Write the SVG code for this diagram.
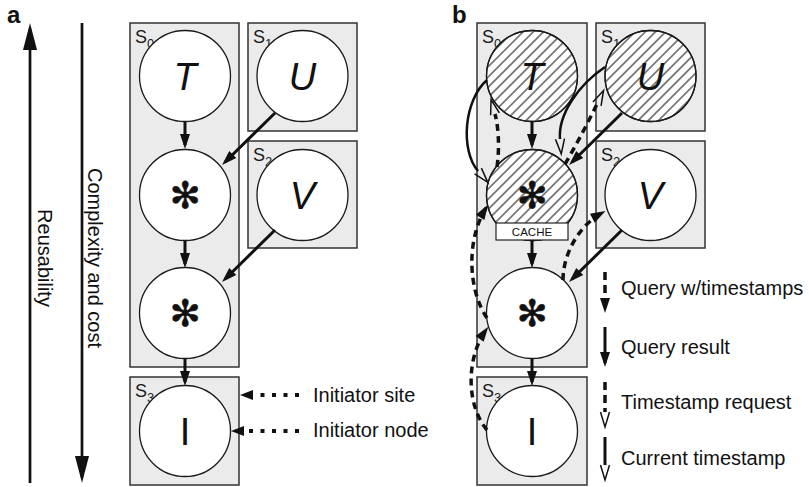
<svg xmlns="http://www.w3.org/2000/svg" width="809" height="487" viewBox="0 0 809 487">
  <defs>
    <style>
      .site{fill:#ebebeb;stroke:#333;stroke-width:1.5}
      .node{fill:#fff;stroke:#1a1a1a;stroke-width:1.3}
      .rim{fill:none;stroke:#1a1a1a;stroke-width:1.3}
      .hatched{fill:url(#hatch);stroke:none}
      .sl{font-family:"Liberation Sans",Arial,sans-serif;font-size:18px;fill:#1a1a1a}
      .sub{font-size:13px}
      .var{font-family:"Liberation Sans",Arial,sans-serif;font-size:38px;font-style:italic;text-anchor:middle;fill:#111}
      .init{font-family:"Liberation Sans",Arial,sans-serif;font-size:38px;text-anchor:middle;fill:#111}
      .op{font-family:"DejaVu Sans",sans-serif;font-size:37px;text-anchor:middle;dominant-baseline:central;fill:#111;stroke:#111;stroke-width:0.6}
      .lbl{font-family:"Liberation Sans",Arial,sans-serif;font-size:20px;fill:#111}
      .panel{font-family:"Liberation Sans",Arial,sans-serif;font-size:24px;font-weight:bold;fill:#111}
      .cache{fill:#fff;stroke:#222;stroke-width:1.2}
      .cachetxt{font-family:"Liberation Sans",Arial,sans-serif;font-size:11.5px;text-anchor:middle;fill:#111}
      .axis{fill:none;stroke:#111;stroke-width:2.7}
      .solid{fill:none;stroke:#111;stroke-width:3}
      .thin{fill:none;stroke:#111;stroke-width:2.5}
      .dashed{fill:none;stroke:#111;stroke-width:3.5;stroke-dasharray:7 5}
      .dotted{fill:none;stroke:#111;stroke-width:4;stroke-dasharray:4 7.5}
      .result{marker-end:url(#fa)}
      .stamp{marker-end:url(#oa)}
    </style>
    <pattern id="hatch" patternUnits="userSpaceOnUse" width="7.2" height="7.2" patternTransform="rotate(-45)">
      <line x1="0" y1="3.6" x2="7.2" y2="3.6" stroke="#222" stroke-width="1.1"/>
    </pattern>
    <!-- filled arrowhead, tip 4px past the line end -->
    <marker id="fa" markerUnits="userSpaceOnUse" markerWidth="15" markerHeight="10" refX="11" refY="5" orient="auto" overflow="visible">
      <path d="M0,0 L15,5 L0,10 z" fill="#111"/>
    </marker>
    <!-- hollow arrowhead: two thin arms running 15px past the line end -->
    <marker id="oa" markerUnits="userSpaceOnUse" markerWidth="16" markerHeight="10" refX="0" refY="5" orient="auto" overflow="visible">
      <path d="M0,0.5 L15,5 L0,9.5" fill="none" stroke="#111" stroke-width="1.5" stroke-dasharray="none" stroke-linejoin="miter"/>
    </marker>
    <!-- arrowhead set off from the end of a dotted pointer -->
    <marker id="fad" markerUnits="userSpaceOnUse" markerWidth="13" markerHeight="10" refX="0" refY="5" orient="auto" overflow="visible">
      <path d="M0,0 L13,5 L0,10 z" fill="#111"/>
    </marker>
    <!-- large arrowhead of the side axes -->
    <marker id="big" markerUnits="userSpaceOnUse" markerWidth="27" markerHeight="14" refX="21" refY="7" orient="auto" overflow="visible">
      <path d="M0,0 L27,7 L0,14 z" fill="#111"/>
    </marker>
  </defs>

  <rect width="809" height="487" fill="#fff"/>

  <!-- panel letters -->
  <text class="panel" x="7" y="23">a</text>
  <text class="panel" x="452" y="23">b</text>

  <!-- side axes -->
  <g id="axes">
    <path class="axis" d="M30,483 V29" marker-end="url(#big)"/>
    <path class="axis" d="M82,23 V477" marker-end="url(#big)"/>
    <text class="lbl" text-anchor="middle" transform="translate(38,258) rotate(90)">Reusability</text>
    <text class="lbl" text-anchor="middle" transform="translate(88,258) rotate(90)">Complexity and cost</text>
  </g>

  <!-- ===== panel a: sites ===== -->
  <g id="a-site-s0"><rect class="site" x="130" y="23" width="109" height="344"/><text class="sl" x="135" y="43">S<tspan class="sub" dy="5">0</tspan></text></g>
  <g id="a-site-s1"><rect class="site" x="248" y="23" width="109" height="108"/><text class="sl" x="253" y="43">S<tspan class="sub" dy="5">1</tspan></text></g>
  <g id="a-site-s2"><rect class="site" x="248" y="141" width="109" height="107"/><text class="sl" x="253" y="161">S<tspan class="sub" dy="5">2</tspan></text></g>
  <g id="a-site-s3"><rect class="site" x="130" y="377" width="109" height="108"/><text class="sl" x="135" y="397">S<tspan class="sub" dy="5">3</tspan></text></g>

  <!-- panel a: nodes -->
  <g id="a-node-t"><circle class="node" cx="185" cy="76" r="45.5"/><text class="var" x="185" y="89.5">T</text></g>
  <g id="a-node-u"><circle class="node" cx="302.5" cy="76" r="45.5"/><text class="var" x="302.5" y="89.5">U</text></g>
  <g id="a-node-join1"><circle class="node" cx="185" cy="195" r="45.5"/><text class="op" x="185" y="195">✻</text></g>
  <g id="a-node-v"><circle class="node" cx="302.5" cy="195" r="45.5"/><text class="var" x="302.5" y="208.5">V</text></g>
  <g id="a-node-join2"><circle class="node" cx="185" cy="313" r="45.5"/><text class="op" x="185" y="313">✻</text></g>
  <g id="a-node-i"><circle class="node" cx="185" cy="431" r="45.5"/><text class="init" x="185" y="444.5">I</text></g>

  <!-- ===== panel b: sites ===== -->
  <g id="b-site-s0"><rect class="site" x="477" y="23" width="110" height="344"/><text class="sl" x="482" y="43">S<tspan class="sub" dy="5">0</tspan></text></g>
  <g id="b-site-s1"><rect class="site" x="596" y="23" width="109" height="108"/><text class="sl" x="601" y="43">S<tspan class="sub" dy="5">1</tspan></text></g>
  <g id="b-site-s2"><rect class="site" x="596" y="141" width="109" height="107"/><text class="sl" x="601" y="161">S<tspan class="sub" dy="5">2</tspan></text></g>
  <g id="b-site-s3"><rect class="site" x="477" y="377" width="110" height="108"/><text class="sl" x="482" y="397">S<tspan class="sub" dy="5">3</tspan></text></g>

  <!-- panel b: nodes -->
  <g id="b-node-t">
    <circle class="node" cx="532" cy="76" r="45.5"/>
    <circle class="hatched" cx="532" cy="76" r="45.5"/>
    <text class="var" x="532" y="89.5">T</text>
    <circle class="rim" cx="532" cy="76" r="45.5"/>
  </g>
  <g id="b-node-u">
    <circle class="node" cx="650.5" cy="76" r="45.5"/>
    <circle class="hatched" cx="650.5" cy="76" r="45.5"/>
    <text class="var" x="650.5" y="89.5">U</text>
    <circle class="rim" cx="650.5" cy="76" r="45.5"/>
  </g>
  <g id="b-node-join1">
    <circle class="node" cx="532" cy="195" r="45.5"/>
    <circle class="hatched" cx="532" cy="195" r="45.5"/>
    <text class="op" x="532" y="195">✻</text>
    <circle class="rim" cx="532" cy="195" r="45.5"/>
    <rect class="cache" x="496" y="223" width="72" height="17"/>
    <text class="cachetxt" x="532" y="236">CACHE</text>
  </g>
  <g id="b-node-v"><circle class="node" cx="650.5" cy="195" r="45.5"/><text class="var" x="650.5" y="208.5">V</text></g>
  <g id="b-node-join2"><circle class="node" cx="532" cy="313" r="45.5"/><text class="op" x="532" y="313">✻</text></g>
  <g id="b-node-i"><circle class="node" cx="532" cy="431" r="45.5"/><text class="init" x="532" y="444.5">I</text></g>

  <!-- ===== connectors ===== -->
  <g id="connectors">
    <!-- panel a: query results -->
    <path class="solid result" d="M185,122 V145"/>
    <path class="solid result" d="M275,113 L224.9,162.2"/>
    <path class="solid result" d="M275,230 L224.9,279.2"/>
    <path class="solid result" d="M185,241 V264"/>
    <path class="solid result" d="M185,359 V382"/>

    <!-- panel b: query results -->
    <path class="solid result" d="M532,122 V145"/>
    <path class="solid result" d="M622,113 L571.9,162.2"/>
    <path class="solid result" d="M532,240 V264"/>
    <path class="solid result" d="M622,230 L571.9,279.2"/>
    <path class="solid result" d="M532,359 V382"/>

    <!-- panel b: current timestamps -->
    <path class="thin stamp" d="M487,80 C464,100 460,150 478,171"/>
    <path class="thin stamp" d="M605,67 C578,85 558,115 560,139"/>

    <!-- panel b: timestamp requests -->
    <path class="dashed stamp" d="M497,167 C500,145 498,125 495,114"/>
    <path class="dashed stamp" d="M565,164 Q582,135 597,104"/>

    <!-- panel b: queries with timestamps -->
    <path class="dashed result" d="M487,318 C468,290 466,240 486,208"/>
    <path class="dashed result" d="M487,430 C466,405 466,358 486,330"/>
    <path class="dashed result" d="M563,280 C563,255 578,226 602,213"/>
  </g>

  <!-- panel a legend -->
  <g id="legend-a">
    <path class="dotted" d="M299,395 H253" marker-end="url(#fad)"/>
    <text class="lbl" x="313" y="402">Initiator site</text>
    <path class="dotted" d="M299,431 H244" marker-end="url(#fad)"/>
    <text class="lbl" x="313" y="437">Initiator node</text>
  </g>

  <!-- panel b legend -->
  <g id="legend-b">
    <path class="dashed result" style="stroke-dasharray:8 5 8 18" d="M605,272 V309"/>
    <text class="lbl" x="621" y="295">Query w/timestamps</text>
    <path class="solid result" d="M605,327 V363"/>
    <text class="lbl" x="621" y="354">Query result</text>
    <path class="dashed stamp" style="stroke-dasharray:8 5" d="M605,382 V412"/>
    <text class="lbl" x="621" y="409">Timestamp request</text>
    <path class="solid stamp" d="M605,437 V465"/>
    <text class="lbl" x="621" y="465">Current timestamp</text>
  </g>
</svg>
